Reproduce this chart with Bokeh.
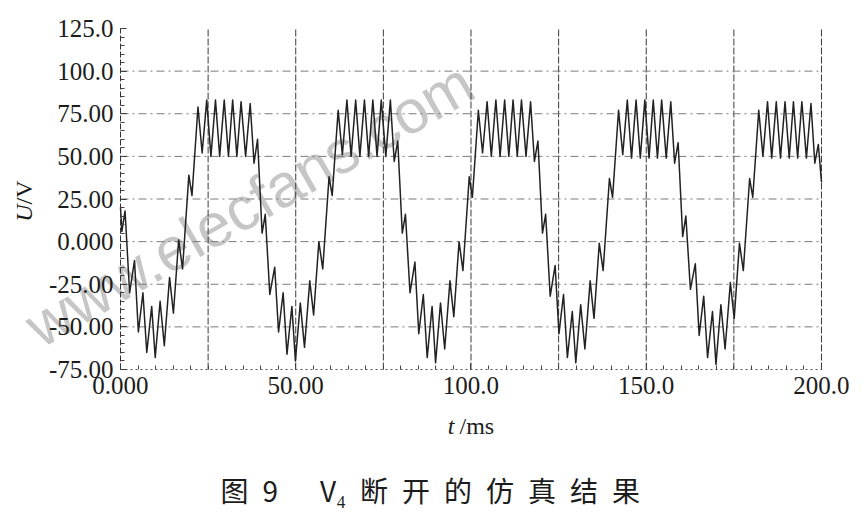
from bokeh.plotting import figure
from bokeh.models import Range1d, FixedTicker, Label
from bokeh.embed import file_html
from bokeh.resources import INLINE

# ---- data ----
# turning points of each 40 ms period (ms from period start)
phase_ms = [0.4, 1.3, 2.6, 4.0, 5.1, 6.4, 7.5, 8.9, 9.9, 11.3,
            12.5, 14.0, 15.1, 16.6, 17.7, 19.5, 20.4, 22.1, 23.3, 24.6,
            25.8, 27.1, 28.3, 29.6, 30.8, 32.0, 33.2, 34.4, 35.7, 37.0,
            38.1, 39.1]
period_start_ms = [0, 40, 80, 120, 160]
v_period1 = [6, 18, -30, -11, -53, -30, -65, -38, -68, -35,
             -61, -21, -42, 1, -16, 39, 27, 79, 52, 83,
             50, 83, 50, 83, 50, 83, 50, 82, 50, 81, 46, 60]
v_period2 = [5, 16, -31, -15, -53, -30, -66, -38, -70, -36,
             -62, -23, -43, 0, -16, 38, 27, 77, 51, 83,
             50, 83, 50, 83, 50, 83, 50, 83, 50, 83, 47, 59]
v_period3 = [5, 16, -30, -12, -54, -31, -68, -38, -71, -36,
             -63, -23, -44, 0, -17, 38, 26, 77, 52, 82,
             50, 83, 50, 83, 50, 83, 50, 83, 50, 82, 47, 59]
v_period4 = [5, 16, -32, -14, -54, -31, -68, -41, -71, -37,
             -63, -23, -45, -1, -17, 37, 26, 77, 51, 83,
             49, 83, 49, 83, 49, 83, 49, 83, 49, 82, 46, 58]
v_period5 = [3, 15, -28, -13, -55, -32, -68, -41, -72, -37,
             -63, -24, -45, -1, -17, 37, 26, 77, 50, 82,
             49, 82, 49, 82, 49, 82, 49, 82, 49, 81, 46, 57]
first_point = (0.0, 20.0)
last_point = (200.0, 35.0)

x_ticks = [0, 50, 100, 150, 200]
x_tick_labels = ["0.000", "50.00", "100.0", "150.0", "200.0"]
y_ticks = [-75, -50, -25, 0, 25, 50, 75, 100, 125]
y_tick_labels = ["-75.00", "-50.00", "-25.00", "0.000", "25.00",
                 "50.00", "75.00", "100.0", "125.0"]
x_grid_lines = [25, 50, 75, 100, 125, 150, 175, 200]
y_grid_lines = [-50, -25, 0, 25, 50, 75, 100]
x_span = (0, 200)
y_span = (-75, 125)

caption = "图\u20029\u2003\u2002V₄\u2002断\u2002开\u2002的\u2002仿\u2002真\u2002结\u2002果"
watermark = "www.elecfans.com"

# ---- assemble series ----
periods = [v_period1, v_period2, v_period3, v_period4, v_period5]
t = [first_point[0]]
v = [first_point[1]]
for start, vals in zip(period_start_ms, periods):
    for ph, val in zip(phase_ms, vals):
        t.append(start + ph)
        v.append(val)
t.append(last_point[0])
v.append(last_point[1])

SERIF = "Liberation Serif"
INK = "#1c1c1c"

# The frame covers the whole canvas; the axes are pinned at t=0 and U=-75,
# so that the captions outside the data area are not clipped.
p = figure(width=854, height=514, output_backend="svg", toolbar_location=None,
           x_range=Range1d(-34.237, 209.42), y_range=Range1d(-160.04, 141.42),
           min_border_left=0, min_border_right=0,
           min_border_top=0, min_border_bottom=0)
p.outline_line_color = None
p.background_fill_color = "white"
p.border_fill_color = "white"
p.grid.visible = False

# watermark
p.add_layout(Label(x=36.8, y=21.8, text=watermark, angle=30, angle_units="deg",
                   text_align="center", text_baseline="middle",
                   text_font="Liberation Sans", text_font_size="61px",
                   text_color="#c6c6c6", level="underlay"))

# grid lines
p.segment(x0=x_grid_lines, x1=x_grid_lines,
          y0=[y_span[0]] * len(x_grid_lines), y1=[y_span[1]] * len(x_grid_lines),
          line_color="#3a3a3a", line_dash="7 2", line_width=1)
p.segment(x0=[x_span[0]] * len(y_grid_lines), x1=[x_span[1]] * len(y_grid_lines),
          y0=y_grid_lines, y1=y_grid_lines,
          line_color="#7a7a7a", line_dash="8 4 2 4", line_width=1)

# axes
xa = p.xaxis[0]
xa.fixed_location = y_span[0]
xa.bounds = x_span
xa.ticker = FixedTicker(ticks=x_ticks, minor_ticks=list(range(0, 201, 5)))
xa.major_label_overrides = dict(zip(x_ticks, x_tick_labels))
ya = p.yaxis[0]
ya.fixed_location = x_span[0]
ya.bounds = y_span
ya.ticker = FixedTicker(ticks=y_ticks, minor_ticks=list(range(-75, 126, 5)))
ya.major_label_overrides = dict(zip(y_ticks, y_tick_labels))
for ax in (xa, ya):
    ax.major_label_text_font = SERIF
    ax.major_label_text_font_size = "25px"
    ax.major_label_text_color = INK
    ax.major_tick_in = 6
    ax.major_tick_out = 0
    ax.minor_tick_in = 4
    ax.minor_tick_out = 0
    ax.major_tick_line_color = "#333333"
    ax.minor_tick_line_color = "#444444"
    ax.major_label_standoff = 7
xa.axis_line_color = "#555555"
xa.axis_line_dash = "2 3"
ya.axis_line_color = "#333333"
ya.axis_line_dash = "6 2"

# waveform
p.line(t, v, line_color="#222222", line_width=1.5, line_join="round")

# axis titles (italic symbol + upright unit)
p.add_layout(Label(x=95.29, y=-107.85, text="t", text_align="right",
                   text_baseline="alphabetic", text_font=SERIF,
                   text_font_style="italic", text_font_size="24px",
                   text_color=INK))
p.add_layout(Label(x=96.72, y=-107.85, text="/ms", text_align="left",
                   text_baseline="alphabetic", text_font=SERIF,
                   text_font_size="24px", text_color=INK))
p.add_layout(Label(x=-27.39, y=21.8, text="U", angle=90, angle_units="deg",
                   text_align="right", text_baseline="middle", text_font=SERIF,
                   text_font_style="italic", text_font_size="24px",
                   text_color=INK))
p.add_layout(Label(x=-27.39, y=21.8, text="/V", angle=90, angle_units="deg",
                   text_align="left", text_baseline="middle", text_font=SERIF,
                   text_font_size="24px", text_color=INK))

# figure caption
p.add_layout(Label(x=28.53, y=-145.67, text=caption, text_align="left",
                   text_baseline="middle", text_font="Noto Sans CJK SC",
                   text_font_size="28px", text_color=INK))

open("out.html", "w").write(file_html(p, INLINE))
